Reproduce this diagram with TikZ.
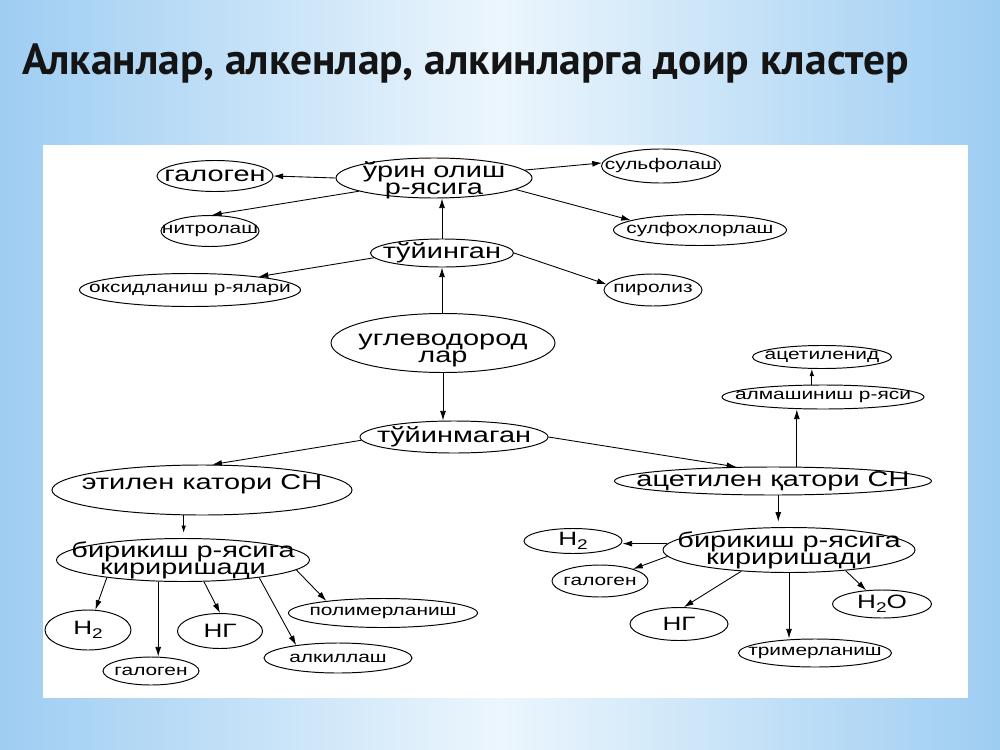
\documentclass[tikz,border=0pt]{standalone}
\usepackage{fontspec}
\setmainfont{Liberation Sans}
\newfontfamily\dgf[FakeStretch=1.35]{Liberation Sans}
\newfontfamily\ttlf{PT Sans}
\usetikzlibrary{arrows.meta,shapes.geometric}
\definecolor{bgedge}{RGB}{158,205,242}
\definecolor{bgmid}{RGB}{236,246,253}
\begin{document}
\begin{tikzpicture}[x=0.02cm,y=-0.02cm,
  el/.style 2 args={ellipse,draw=black,line width=0.55pt,inner sep=0pt,
    minimum width=#1*0.02cm,minimum height=#2*0.02cm},
  big/.style={font={\fontsize{12.2}{14}\selectfont\dgf},inner sep=0pt},
  line/.style={font={\fontsize{12.2}{14}\selectfont\dgf},inner sep=0pt,anchor=base},
  sml/.style={font={\fontsize{8.8}{10}\selectfont\dgf},inner sep=0pt},
  hf/.style={font={\fontsize{11}{12}\selectfont\dgf},inner sep=0pt},
  arr/.style={-{Latex[length=5.5pt,width=3.4pt]},line width=0.5pt},
  arrs/.style={-{Latex[length=4pt,width=2.6pt]},line width=0.5pt}]
\useasboundingbox (0,0) rectangle (1000,750);
\fill[left color=bgedge,right color=bgedge,middle color=bgmid] (0,0) rectangle (1000,750);
\fill[white] (43,145) rectangle (968,698);
\node[anchor=base west,inner sep=0pt,text=black!92,font={\fontsize{24.8}{25}\selectfont\ttlf\bfseries}] (title) at (22,75) {Алканлар, алкенлар, алкинларга доир кластер};
% nodes
\node[el={196}{40}] (urin) at (434,178) {};
\node[line] (urinA) at (434,177) {ўрин олиш};
\node[line] (urinB) at (434,194) {р-ясига};
\node[el={116}{31},label={[big]center:галоген}] (galA) at (215,176) {};
\node[el={98}{31},label={[sml]center:нитролаш}] (nitro) at (210,231) {};
\node[el={143}{28},label={[big]center:тўйинган}] (tuy) at (442,253) {};
\node[el={221}{33},label={[sml]center:оксидланиш р-ялари}] (oksid) at (190,290) {};
\node[el={119}{34},label={[sml]center:сульфолаш}] (sulf) at (661,166) {};
\node[el={173}{31},label={[sml]center:сулфохлорлаш}] (sulfx) at (700,230) {};
\node[el={98}{32},label={[sml]center:пиролиз}] (piro) at (653,290) {};
\node[el={224}{59}] (ugl) at (443,343) {};
\node[line] (uglA) at (443,345) {углеводород};
\node[line] (uglB) at (443,362) {лар};
\node[el={188}{32},label={[big]center:тўйинмаган}] (tuym) at (454,437) {};
\node[el={300}{50},label={[big,yshift=3pt]center:этилен катори СН}] (etil) at (202,490) {};
\node[el={317}{28},label={[big]center:ацетилен қатори СН}] (acet) at (773,481) {};
\node[el={202}{24},label={[sml]center:алмашиниш р-яси}] (alm) at (823,397) {};
\node[el={139}{23},label={[sml]center:ацетиленид}] (acid) at (822,357) {};
\node[el={253}{43}] (bir1) at (183,560) {};
\node[line] (bir1A) at (183,557) {бирикиш р-ясига};
\node[line] (bir1B) at (183,574) {кириришади};
\node[el={86}{40},label={[hf]center:H\raisebox{-0.35ex}{\fontsize{8}{8}\selectfont 2}}] (h2a) at (88,630) {};
\node[el={96}{28},label={[sml]center:галоген}] (galB) at (151,671) {};
\node[el={85}{35},label={[hf]center:НГ}] (nga) at (220,631) {};
\node[el={189}{29},label={[sml]center:полимерланиш}] (polim) at (383,613) {};
\node[el={148}{30},label={[sml]center:алкиллаш}] (alkil) at (338,658) {};
\node[el={252}{45}] (bir2) at (789,550) {};
\node[line] (bir2A) at (789,547) {бирикиш р-ясига};
\node[line] (bir2B) at (789,564) {кириришади};
\node[el={98}{25},label={[hf]center:H\raisebox{-0.35ex}{\fontsize{8}{8}\selectfont 2}}] (h2b) at (573,541) {};
\node[el={96}{32},label={[sml]center:галоген}] (galC) at (600,581) {};
\node[el={98}{33},label={[hf]center:НГ}] (ngb) at (679,624) {};
\node[el={153}{28},label={[sml]center:тримерланиш}] (trim) at (815,653) {};
\node[el={99}{28},label={[hf]center:H\raisebox{-0.35ex}{\fontsize{8}{8}\selectfont 2}O}] (h2o) at (882,604) {};
% connectors
\draw[arr] (urin.west) -- (galA.east);
\draw[arr] (urin.190) -- (nitro.83);
\draw[arr] (urin.5) -- (sulf.177);
\draw[arr] (urin.352) -- (sulfx.172);
\draw[arr] (tuy.north) -- (tuy.north |- urin.south);
\draw[arr] (tuy.184) -- (oksid.11);
\draw[arr] (tuy.east) -- (piro.173);
\draw[arr] (tuy.south |- ugl.north) -- (tuy.south);
\draw[arr] (ugl.south) -- (ugl.south |- tuym.north);
\draw[arr] (tuym.182) -- (etil.68);
\draw[arr] (tuym.east) -- (acet.159);
\draw[arr] (acet.31) -- (acet.31 |- alm.south);
\draw[arrs] (alm.132) -- (alm.132 |- acid.south);
\draw[arrs,shorten >=3pt] (etil.234) -- (etil.234 |- bir1.north);
\draw[arr] (bir1.193) -- (h2a.70);
\draw[arr] (bir1.221) -- (bir1.221 |- galB.north);
\draw[arr] (bir1.314) -- (nga.north);
\draw[arr] (bir1.347) -- (alkil.163);
\draw[arr] (bir1.355) -- (polim.168);
\draw[arr,shorten >=3pt] (acet.290) -- (acet.290 |- bir2.north);
\draw[arr] (bir2.177) -- (bir2.177 -| h2b.east);
\draw[arr] (bir2.183) -- (galC.20);
\draw[arr] (bir2.204) -- (ngb.74);
\draw[arr] (bir2.south) -- (bir2.south |- trim.north);
\draw[arr] (bir2.340) -- (h2o.139);
\end{tikzpicture}
\end{document}
